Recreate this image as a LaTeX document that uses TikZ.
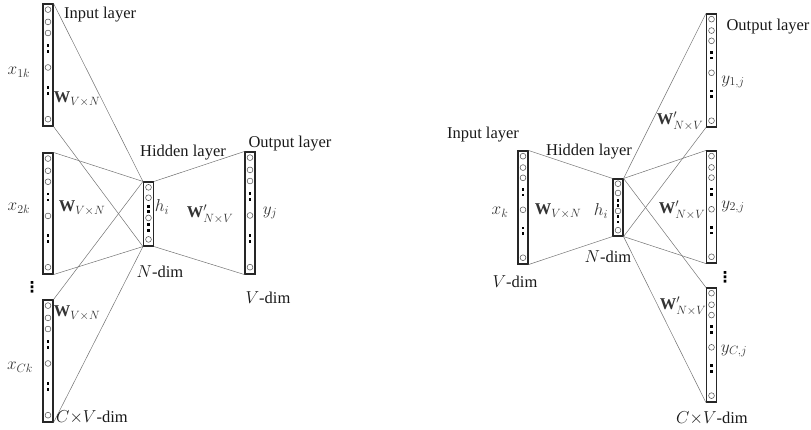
\documentclass[tikz,border=0pt]{standalone}
\usepackage{fontspec}
\setmainfont{Liberation Serif}
\newfontfamily\dotsfont{DejaVu Sans}
\usetikzlibrary{calc, positioning}

% circles and dot squares inside one vector column
\newcommand{\vcells}[3]{%
  \foreach \f in {#2}
    \draw[cell] ($(#1.north)!\f!(#1.south)$) circle (2.9pt);
  \foreach \f in {#3}
    \fill ($(#1.north)!\f!(#1.south)$) ++(-1.4pt,-1.4pt) rectangle ++(2.8pt,2.8pt);
}
\newcommand{\longcells}[1]{\vcells{#1}{0.05,0.15,0.24,0.52,0.94}{0.34,0.39,0.68,0.73}}
\newcommand{\hidcells}[1]{\vcells{#1}{0.09,0.25,0.56,0.89}{0.38,0.46,0.66,0.75}}

\begin{document}
\begin{tikzpicture}[
  x=1pt, y=-1pt,
  font=\fontsize{16.5}{19}\selectfont,
  vec/.style={draw=black!85, line width=1.1pt, fill=white, minimum width=10pt,
              inner sep=0pt},
  cell/.style={draw=black!65, line width=0.55pt, fill=white},
  link/.style={black!55, line width=0.5pt},
  lbl/.style={inner sep=0pt, text=black!90},
  mlbl/.style={inner sep=0pt, text=black!80},
  vdot/.style={inner sep=0pt, font=\dotsfont\bfseries\fontsize{15}{15}\selectfont}
]
\useasboundingbox (0,0) rectangle (811,429);

% ---------- CBOW (left) ----------
\node[vec, minimum height=122pt] (in1) at (48,65) {};
\node[vec, minimum height=121pt] (in2) at (48,213.5) {};
\node[vec, minimum height=122pt] (in3) at (48,361) {};
\node[vec, minimum height=64pt]  (hid) at (148.5,214) {};
\node[vec, minimum height=122pt] (outL) at (250,213) {};

\draw[link] (in1.north east) -- (hid.north west);
\draw[link] (in1.south east) -- (hid.south west);
\draw[link] (in2.north east) -- (hid.north west);
\draw[link] (in2.south east) -- (hid.south west);
\draw[link] (in3.north east) -- (hid.north west);
\draw[link] (in3.south east) -- (hid.south west);
\draw[link] (hid.north east) -- (outL.north west);
\draw[link] (hid.south east) -- (outL.south west);

\longcells{in1} \longcells{in2} \longcells{in3} \longcells{outL}
\hidcells{hid}

\node[lbl, anchor=west] (inlab) at (64,15) {Input layer};
\node[lbl] (hidlab) at (183,153) {Hidden layer};
\node[lbl] (outlab) at (290,144) {Output layer};
\node[mlbl] (x1) at (19,72) {$x_{1k}$};
\node[mlbl] (x2) at (19,208) {$x_{2k}$};
\node[mlbl] (xc) at (20,367) {$x_{Ck}$};
\node[mlbl] (w1) at (77,99) {$\mathbf{W}_{V\times N}$};
\node[mlbl] (w2) at (82,208) {$\mathbf{W}_{V\times N}$};
\node[mlbl] (w3) at (77,313) {$\mathbf{W}_{V\times N}$};
\node[mlbl] (hi) at (162,207) {$h_i$};
\node[mlbl] (wo) at (210,214) {$\mathbf{W}'_{N\times V}$};
\node[mlbl] (yj) at (270,213) {$y_j$};
\node[lbl] (ndim) at (160,272) {$N$-dim};
\node[lbl] (vdim) at (268,298) {$V$-dim};
\node[lbl, anchor=west] (cvdim) at (56,417) {$C{\times}V$-dim};
\node[vdot] (vd) at (32,287) {⋮};

% ---------- Skip-gram (right) ----------
\node[vec, minimum height=113pt] (inR) at (523,207.5) {};
\node[vec, minimum height=57pt]  (hidR) at (618,207.5) {};
\node[vec, minimum height=113pt] (o1) at (711.5,70.5) {};
\node[vec, minimum height=112pt] (o2) at (711.5,207) {};
\node[vec, minimum height=114pt] (o3) at (711.5,345) {};

\draw[link] (inR.north east) -- (hidR.north west);
\draw[link] (inR.south east) -- (hidR.south west);
\foreach \o in {o1,o2,o3} {
  \draw[link] (hidR.north east) -- (\o.north west);
  \draw[link] (hidR.south east) -- (\o.south west);
}

\longcells{inR} \longcells{o1} \longcells{o2} \longcells{o3}
\hidcells{hidR}

\node[lbl] (inlabR) at (483,135) {Input layer};
\node[lbl] (hidlabR) at (589,152) {Hidden layer};
\node[lbl] (outlabR) at (768,27) {Output layer};
\node[mlbl] (xk) at (500,212) {$x_k$};
\node[mlbl] (wR) at (558,211) {$\mathbf{W}_{V\times N}$};
\node[mlbl] (hiR) at (601,211) {$h_i$};
\node[lbl] (ndimR) at (608,257) {$N$-dim};
\node[lbl] (vdimR) at (515,282) {$V$-dim};
\node[mlbl] (y1) at (733,82) {$y_{1,j}$};
\node[mlbl] (y2) at (733,207) {$y_{2,j}$};
\node[mlbl] (yc) at (734,351) {$y_{C,j}$};
\node[mlbl] (wo1) at (680,121) {$\mathbf{W}'_{N\times V}$};
\node[mlbl] (wo2) at (682,210) {$\mathbf{W}'_{N\times V}$};
\node[mlbl] (wo3) at (683,306) {$\mathbf{W}'_{N\times V}$};
\node[vdot] (vdR) at (725,277) {⋮};
\node[lbl] (cvdimR) at (712,418) {$C{\times}V$-dim};
\end{tikzpicture}
\end{document}
